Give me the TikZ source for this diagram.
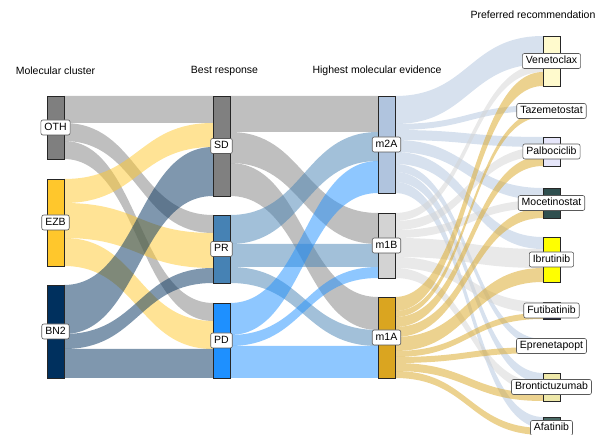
\documentclass[tikz,border=0pt]{standalone}
\usepackage{fontspec}
\setmainfont{Liberation Sans}
\usepackage{tikz}
\usetikzlibrary{positioning,calc}
\usepackage{xcolor}
\definecolor{othgrey}{RGB}{127,127,127}
\definecolor{ezbgold}{RGB}{255,199,44}
\definecolor{bntwonavy}{RGB}{0,48,94}
\definecolor{sdgrey}{RGB}{128,128,128}
\definecolor{prblue}{RGB}{70,130,180}
\definecolor{pdblue}{RGB}{30,144,255}
\definecolor{mtwoa}{RGB}{176,196,222}
\definecolor{moneb}{RGB}{211,211,211}
\definecolor{monea}{RGB}{218,165,32}
\definecolor{venecol}{RGB}{255,250,205}
\definecolor{tazecol}{RGB}{205,92,92}
\definecolor{palbcol}{RGB}{230,230,250}
\definecolor{mocecol}{RGB}{47,79,79}
\definecolor{ibrucol}{RGB}{255,255,0}
\definecolor{futicol}{RGB}{25,30,60}
\definecolor{eprecol}{RGB}{240,240,240}
\definecolor{broncol}{RGB}{238,232,170}
\definecolor{afatcol}{RGB}{74,107,102}
% one alluvium: left x, right x, left top, right top, width, colour
\newcommand{\alluv}[6]{%
  \fill[#6, fill opacity=0.5] (#1,#3) .. controls ({(#1+#2)/2},#3) and ({(#1+#2)/2},#4) .. (#2,#4)
    -- (#2,{#4+#5}) .. controls ({(#1+#2)/2},{#4+#5}) and ({(#1+#2)/2},{#3+#5}) .. (#1,{#3+#5}) -- cycle;}

\begin{document}
\begin{tikzpicture}[x=1pt, y=-1pt,
    stratum/.style={draw=black!85, line width=0.8pt},
    lbl/.style={draw=black!65, fill=white, rounded corners=2pt, line width=0.6pt,
      font=\fontsize{10.5}{12}\selectfont, inner xsep=3.5pt, inner ysep=0pt,
      minimum height=15pt, text height=7.6pt, text depth=2pt},
    axtitle/.style={font=\fontsize{10.5}{12}\selectfont, inner sep=0pt}]
    \useasboundingbox (0,0) rectangle (603,435);

    % cluster -> response
    \alluv{64}{213}{96}{96}{27}{othgrey}
    \alluv{64}{213}{123}{215}{18}{othgrey}
    \alluv{64}{213}{141}{303}{18}{othgrey}
    \alluv{64}{213}{179}{123}{24}{ezbgold}
    \alluv{64}{213}{203}{233}{35}{ezbgold}
    \alluv{64}{213}{238}{321}{28}{ezbgold}
    \alluv{64}{213}{285}{147}{49}{bntwonavy}
    \alluv{64}{213}{334}{268}{15}{bntwonavy}
    \alluv{64}{213}{349}{349}{29}{bntwonavy}

    % response -> evidence
    \alluv{230}{378}{96}{96}{36}{sdgrey}
    \alluv{230}{378}{132}{213}{31}{sdgrey}
    \alluv{230}{378}{163}{297}{33}{sdgrey}
    \alluv{230}{378}{215}{132}{29}{prblue}
    \alluv{230}{378}{244}{244}{23}{prblue}
    \alluv{230}{378}{267}{330}{16}{prblue}
    \alluv{230}{378}{303}{161}{32}{pdblue}
    \alluv{230}{378}{335}{267}{11}{pdblue}
    \alluv{230}{378}{346}{346}{32}{pdblue}

    % evidence -> recommendation
    \alluv{395}{543}{96}{36}{28}{mtwoa}
    \alluv{395}{543}{124}{105}{6}{mtwoa}
    \alluv{395}{543}{130}{137}{10}{mtwoa}
    \alluv{395}{543}{140}{188}{12}{mtwoa}
    \alluv{395}{543}{152}{237}{12}{mtwoa}
    \alluv{395}{543}{164}{339}{8}{mtwoa}
    \alluv{395}{543}{172}{373}{10}{mtwoa}
    \alluv{395}{543}{182}{417}{11}{mtwoa}
    \alluv{395}{543}{213}{64}{8}{moneb}
    \alluv{395}{543}{221}{147}{9}{moneb}
    \alluv{395}{543}{230}{200}{8}{moneb}
    \alluv{395}{543}{238}{249}{19}{moneb}
    \alluv{395}{543}{257}{302}{11}{moneb}
    \alluv{395}{543}{268}{383}{10}{moneb}
    \alluv{395}{543}{297}{72}{14}{monea}
    \alluv{395}{543}{311}{111}{6}{monea}
    \alluv{395}{543}{317}{156}{10}{monea}
    \alluv{395}{543}{327}{208}{10}{monea}
    \alluv{395}{543}{337}{268}{14}{monea}
    \alluv{395}{543}{351}{313}{6}{monea}
    \alluv{395}{543}{357}{347}{6}{monea}
    \alluv{395}{543}{363}{393}{8}{monea}
    \alluv{395}{543}{371}{428}{7}{monea}

    % strata
    \draw[stratum, fill=othgrey] (47,96) rectangle (64,159);
    \draw[stratum, fill=ezbgold] (47,179) rectangle (64,266);
    \draw[stratum, fill=bntwonavy] (47,285) rectangle (64,378);
    \draw[stratum, fill=sdgrey] (213,96) rectangle (230,196);
    \draw[stratum, fill=prblue] (213,215) rectangle (230,283);
    \draw[stratum, fill=pdblue] (213,303) rectangle (230,378);
    \draw[stratum, fill=mtwoa] (378,96) rectangle (395,193);
    \draw[stratum, fill=moneb] (378,213) rectangle (395,278);
    \draw[stratum, fill=monea] (378,297) rectangle (395,378);
    \draw[stratum, fill=venecol] (543,36) rectangle (560,86);
    \draw[stratum, fill=tazecol] (543,105) rectangle (560,117);
    \draw[stratum, fill=palbcol] (543,137) rectangle (560,166);
    \draw[stratum, fill=mocecol] (543,188) rectangle (560,218);
    \draw[stratum, fill=ibrucol] (543,237) rectangle (560,282);
    \draw[stratum, fill=futicol] (543,302) rectangle (560,319);
    \draw[stratum, fill=eprecol] (543,339) rectangle (560,353);
    \draw[stratum, fill=broncol] (543,373) rectangle (560,401);
    \draw[stratum, fill=afatcol] (543,417) rectangle (560,437);

    % stratum labels
    \node[lbl] (oth) at (55.5,127.5) {OTH};
    \node[lbl] (ezb) at (55.5,222.5) {EZB};
    \node[lbl] (bn2) at (55.5,331.5) {BN2};
    \node[lbl] (sd) at (221.5,146) {SD};
    \node[lbl] (pr) at (221.5,249) {PR};
    \node[lbl] (pd) at (221.5,340.5) {PD};
    \node[lbl] (m2a) at (386.5,144.5) {m2A};
    \node[lbl] (m1b) at (386.5,245.5) {m1B};
    \node[lbl] (m1a) at (386.5,337.5) {m1A};
    \node[lbl] (vene) at (551.5,61) {Venetoclax};
    \node[lbl] (taze) at (551.5,111) {Tazemetostat};
    \node[lbl] (palb) at (551.5,151.5) {Palbociclib};
    \node[lbl] (moce) at (551.5,203) {Mocetinostat};
    \node[lbl] (ibru) at (551.5,259.5) {Ibrutinib};
    \node[lbl] (futi) at (551.5,310.5) {Futibatinib};
    \node[lbl] (epre) at (551.5,346) {Eprenetapopt};
    \node[lbl] (bron) at (551.5,387) {Brontictuzumab};
    \node[lbl] (afat) at (551.5,428) {Afatinib};

    % axis titles
    \node[axtitle] (t1) at (55.5,71) {Molecular cluster};
    \node[axtitle] (t2) at (224.5,71) {Best response};
    \node[axtitle] (t3) at (377,71) {Highest molecular evidence};
    \node[axtitle] (t4) at (533,15) {Preferred recommendation};
\end{tikzpicture}
\end{document}
